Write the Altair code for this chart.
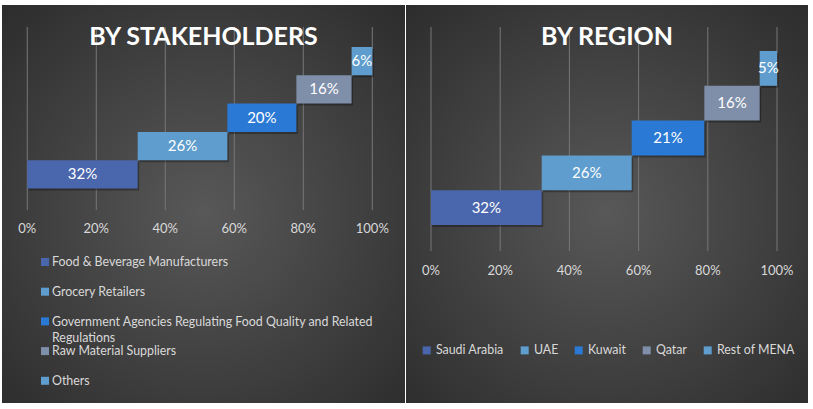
import textwrap
import altair as alt
import pandas as pd

# ---- data ----
stake_cats = [
    "Food & Beverage Manufacturers",
    "Grocery Retailers",
    "Government Agencies Regulating Food Quality and Related Regulations",
    "Raw Material Suppliers",
    "Others",
]
stake_vals = [32, 26, 20, 16, 6]
region_cats = ["Saudi Arabia", "UAE", "Kuwait", "Qatar", "Rest of MENA"]
region_vals = [32, 26, 21, 16, 5]
tick_vals = [0, 20, 40, 60, 80, 100]
bar_colors = ["#4A66AC", "#5E9DCD", "#2A7AD5", "#7F8FA9", "#5E9DCD"]

FONT = "Lato"
TXT = "#d9d9d9"
SMALL = 12.4


def frame(cats, vals):
    df = pd.DataFrame({"cat": cats, "val": vals})
    df["idx"] = range(len(df))
    df["end"] = df["val"].cumsum()
    df["start"] = df["end"] - df["val"]
    df["mid"] = (df["start"] + df["end"]) / 2
    df["top"] = df["idx"] + 1
    df["ymid"] = df["idx"] + 0.5
    df["label"] = df["val"].astype(str) + "%"
    return df


bg_fill = {
    "gradient": "radial",
    "x1": 0.5, "y1": 0.52, "r1": 0,
    "x2": 0.5, "y2": 0.52, "r2": 0.74,
    "stops": [
        {"offset": 0, "color": "#585858"},
        {"offset": 1, "color": "#2b2b2b"},
    ],
}


def panel(cats, vals, W, H, xdom, ydom, grid_y2, tick_y, title, legend):
    df = frame(cats, vals)
    xs = alt.Scale(domain=xdom, nice=False, zero=False)
    ys = alt.Scale(domain=ydom, nice=False, zero=False)
    cscale = alt.Scale(domain=cats, range=bar_colors)

    bg = alt.Chart(alt.Data(values=[{"a": 1}])).mark_rect(fill=bg_fill).encode(
        x=alt.value(0), x2=alt.value(W), y=alt.value(0), y2=alt.value(H)
    )
    ticks = pd.DataFrame({"t": tick_vals})
    ticks["lab"] = ticks["t"].astype(str) + "%"
    grid = alt.Chart(ticks).mark_rule(color="#777777", strokeWidth=1).encode(
        x=alt.X("t:Q", scale=xs, axis=None), y=alt.value(22), y2=alt.value(grid_y2)
    )
    tick_text = alt.Chart(ticks).mark_text(
        font=FONT, fontSize=13, color=TXT, baseline="middle"
    ).encode(x=alt.X("t:Q", scale=xs, axis=None), y=alt.value(tick_y), text="lab:N")

    shadow = alt.Chart(df).mark_rect(
        color="black", opacity=0.3, xOffset=1.5, x2Offset=1.5, yOffset=2, y2Offset=2
    ).encode(
        x=alt.X("start:Q", scale=xs, axis=None), x2="end:Q",
        y=alt.Y("idx:Q", scale=ys, axis=None), y2="top:Q",
    )
    if legend:
        leg = alt.Legend(
            orient="none", legendX=14.5, legendY=339, direction="horizontal",
            symbolType="square", symbolSize=64, symbolStrokeWidth=0,
            symbolOpacity=1, labelFont=FONT, labelFontSize=SMALL, labelColor=TXT,
            columnPadding=14, labelOffset=3, padding=0, title=None,
        )
    else:
        leg = None
    bars = alt.Chart(df).mark_rect(opacity=1).encode(
        x=alt.X("start:Q", scale=xs, axis=None), x2="end:Q",
        y=alt.Y("idx:Q", scale=ys, axis=None), y2="top:Q",
        color=alt.Color("cat:N", scale=cscale, legend=leg, sort=cats),
    )
    labels = alt.Chart(df).mark_text(
        font=FONT, fontSize=15, color="white", baseline="middle"
    ).encode(
        x=alt.X("mid:Q", scale=xs, axis=None),
        y=alt.Y("ymid:Q", scale=ys, axis=None),
        text="label:N",
    )
    ttl = alt.Chart(alt.Data(values=[{"a": 1}])).mark_text(
        font=FONT, fontSize=25, fontWeight="bold", color="white", baseline="middle"
    ).encode(x=alt.value(W / 2), y=alt.value(32), text=alt.value(title))

    layers = [bg, grid, tick_text, shadow, bars, labels, ttl]
    return alt.layer(*layers).properties(width=W, height=H)


def manual_legend(cats):
    lg = pd.DataFrame({"cat": cats})
    lg["idx"] = range(len(lg))
    lg["txt"] = [textwrap.fill(c, 56) for c in cats]
    base = alt.Chart(lg).transform_calculate(ly="257 + datum.idx * 29.7")
    sq = base.mark_square(size=64, opacity=1).encode(
        x=alt.value(43),
        y=alt.Y("ly:Q", scale=None),
        color=alt.Color("cat:N", scale=alt.Scale(domain=cats, range=bar_colors), legend=None),
    )
    tx = base.transform_calculate(ty="datum.ly + 4.3").mark_text(
        font=FONT, fontSize=SMALL, color=TXT, align="left", baseline="alphabetic",
        lineBreak="\n", lineHeight=16,
    ).encode(x=alt.value(50), y=alt.Y("ty:Q", scale=None), text="txt:N")
    return [sq, tx]


left = panel(stake_cats, stake_vals, 403, 398, [-7.33, 109.48], [-7.58, 6.484],
             205, 224, "BY STAKEHOLDERS", False)
left = alt.layer(*left.layer, *manual_legend(stake_cats)).properties(width=403, height=398)

right = panel(region_cats, region_vals, 402, 398, [-7.225, 108.96], [-5.115, 6.322],
              246, 266, "BY REGION", True)

chart = alt.hconcat(left, right, spacing=1).resolve_scale(
    x="independent", y="independent", color="independent"
).resolve_legend(color="independent").properties(
    padding={"left": 2, "top": 5, "right": 0, "bottom": 0},
    background="white",
).configure_view(stroke=None, strokeWidth=0)

chart.save("out.html", embed_options={"renderer": "svg", "actions": False})
